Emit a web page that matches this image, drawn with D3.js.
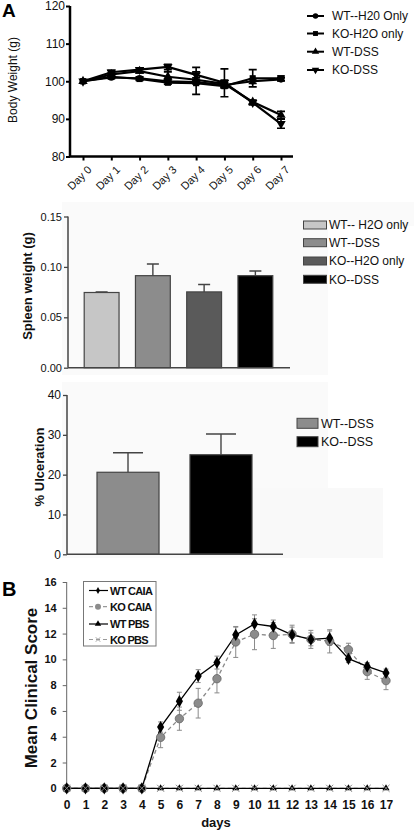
<!DOCTYPE html>
<html><head><meta charset="utf-8">
<script src="https://cdn.jsdelivr.net/npm/d3@7"></script>
<style>
body{margin:0;background:#fff;}
svg{display:block;font-family:"Liberation Sans",Arial,sans-serif;}
</style></head><body>
<svg id="c" width="414" height="830"></svg>
<script>
// ---------- DATA ----------
const bwDays = ["Day 0","Day 1","Day 2","Day 3","Day 4","Day 5","Day 6","Day 7"];
const bwSeries = ["WT--H20 Only","KO-H2O only","WT-DSS","KO-DSS"];
const bwWTH2O = [100, 101.0, 100.8, 100.0, 99.8, 99.0, 100.0, 100.5];
const bwKOH2O = [100, 101.2, 100.6, 99.6, 99.5, 98.7, 100.8, 100.8];
const bwWTDSS = [100, 101.8, 102.7, 101.2, 100.4, 99.3, 94.5, 91.0];
const bwKODSS = [100, 102.4, 103.1, 103.8, 101.7, 99.6, 94.3, 88.7];
const bwErrWTH2O = [0, 0.3, 0.4, 0.4, 0.5, 0.6, 0.6, 0.4];
const bwErrKOH2O = [0, 0.3, 0.4, 0.4, 3.0, 0.5, 2.3, 0.6];
const bwErrWTDSS = [0, 0.4, 0.5, 1.3, 0.5, 1.0, 0.5, 1.0];
const bwErrKODSS = [0, 0.5, 0.5, 0.7, 2.0, 3.7, 0.6, 1.2];
const bwTicks = [80, 90, 100, 110, 120];

const spleenGroups = ["WT-- H2O only","WT--DSS","KO--H2O only","KO--DSS"];
const spleenMeans = [0.0746, 0.0913, 0.0752, 0.0913];
const spleenErr = [0.0005, 0.0116, 0.0074, 0.0047];
const spleenTicks = [0, 0.05, 0.10, 0.15];

const ulcerGroups = ["WT--DSS","KO--DSS"];
const ulcerMeans = [20.6, 25.0];
const ulcerErr = [4.9, 5.2];
const ulcerTicks = [0, 10, 20, 30, 40];

const caiaDays = [0,1,2,3,4,5,6,7,8,9,10,11,12,13,14,15,16,17];
const caiaSeries = ["WT CAIA","KO CAIA","WT PBS","KO PBS"];
const wtCAIA = [0,0,0,0,0,4.75,6.75,8.7,9.75,11.9,12.75,12.55,11.9,11.55,11.65,10.05,9.45,8.95];
const wtCAIAErr = [0,0,0,0,0,0.4,0.7,0.5,0.5,0.6,0.7,0.5,0.6,0.5,0.55,0.3,0.3,0.3];
const koCAIA = [0,0,0,0,0,3.95,5.4,6.6,8.5,11.35,11.95,11.85,11.95,11.55,11.4,10.75,9.05,8.35];
const koCAIAErr = [0,0,0,0,0,0.8,0.9,1.15,1.1,1.2,1.2,1.0,0.7,0.7,0.9,0.5,0.6,0.7];
const wtPBS = [0,0,0,0,0,0,0,0,0,0,0,0,0,0,0,0,0,0];
const koPBS = [0,0,0,0,0,0,0,0,0,0,0,0,0,0,0,0,0,0];
const caiaTicks = [0,2,4,6,8,10,12,14,16];

// ---------- DRAW ----------
const svg = d3.select("#c");
const F = '"Liberation Sans",Arial,sans-serif';

// faint panel backgrounds
svg.append("rect").attr("x",62).attr("y",202).attr("width",352).attr("height",24).attr("fill","#fafafa");
svg.append("rect").attr("x",62).attr("y",226).attr("width",266).attr("height",149).attr("fill","#fafafa");
svg.append("rect").attr("x",62).attr("y",382).attr("width",266).attr("height",176).attr("fill","#fafafa");
svg.append("rect").attr("x",250).attr("y",488).attr("width",133).attr("height",70).attr("fill","#f9f9f9");

// ===== Panel A1: body weight =====
svg.append("text").attr("x",2).attr("y",17).attr("font-size",19).attr("font-weight","bold").text("A");
const bx = d3.scalePoint().domain(bwDays).range([83, 281]);
const by = d3.scaleLinear().domain([80,120]).range([156.5, 6]);
const gA = svg.append("g");
const yA = gA.append("g").attr("transform","translate(70,0)")
  .call(d3.axisLeft(by).tickValues(bwTicks).tickSize(4).tickPadding(1));
yA.select(".domain").attr("stroke","#000").attr("stroke-width",2.5).attr("d","M0,6V157");
yA.selectAll(".tick line").attr("stroke-width",2);
yA.selectAll("text").attr("font-size",12).attr("font-family",F).attr("fill","#111");
const xA = gA.append("g").attr("transform","translate(0,156.5)")
  .call(d3.axisBottom(bx).tickSize(4));
xA.select(".domain").attr("stroke","#000").attr("stroke-width",2.5).attr("d","M69,0H293");
xA.selectAll(".tick line").attr("stroke-width",2);
xA.selectAll("text").attr("font-size",11).attr("font-family",F).attr("fill","#111")
  .attr("text-anchor","end").attr("dy",0).attr("transform","translate(4,9) rotate(-45)");
svg.append("text").attr("transform","translate(17,80) rotate(-90)").attr("text-anchor","middle")
  .attr("font-size",12).attr("fill","#111").text("Body Weight (g)");

const bwData = [
  {name:bwSeries[0], v:bwWTH2O, e:bwErrWTH2O, sym:d3.symbolCircle, size:34},
  {name:bwSeries[1], v:bwKOH2O, e:bwErrKOH2O, sym:d3.symbolSquare, size:38},
  {name:bwSeries[2], v:bwWTDSS, e:bwErrWTDSS, sym:d3.symbolTriangle, size:38},
  {name:bwSeries[3], v:bwKODSS, e:bwErrKODSS, sym:"inv", size:38}
];
function symPath(s,size){
  if(s==="inv") return d3.symbol(d3.symbolTriangle,size)();
  return d3.symbol(s,size)();
}
bwData.forEach(s=>{
  const line = d3.line().x((d,i)=>bx(bwDays[i])).y(d=>by(d));
  gA.append("path").attr("d",line(s.v)).attr("fill","none").attr("stroke","#000").attr("stroke-width",2.2);
  s.v.forEach((d,i)=>{
    if(s.e[i]>0){
      const x=bx(bwDays[i]);
      gA.append("path").attr("d",`M${x},${by(d+s.e[i])}V${by(d-s.e[i])}M${x-4},${by(d+s.e[i])}H${x+4}M${x-4},${by(d-s.e[i])}H${x+4}`)
        .attr("stroke","#000").attr("stroke-width",1.6).attr("fill","none");
    }
  });
  s.v.forEach((d,i)=>{
    gA.append("path").attr("d",symPath(s.sym,s.size))
      .attr("transform",`translate(${bx(bwDays[i])},${by(d)})${s.sym==="inv"?" rotate(180)":""}`).attr("fill","#000");
  });
});
// legend A1
const legA = [16, 33.5, 51.7, 70];
bwData.forEach((s,i)=>{
  const y=legA[i];
  svg.append("line").attr("x1",307).attr("x2",324).attr("y1",y).attr("y2",y).attr("stroke","#000").attr("stroke-width",2);
  svg.append("path").attr("d",symPath(s.sym,24)).attr("transform",`translate(315.5,${y})${s.sym==="inv"?" rotate(180)":""}`);
  svg.append("text").attr("x",332).attr("y",y+4.3).attr("font-size",12).attr("fill","#111").text(s.name);
});

// ===== Panel A2: spleen =====
const sx = d3.scaleBand().domain(spleenGroups).range([76,281]).paddingInner(0.32).paddingOuter(0.16);
const sy = d3.scaleLinear().domain([0,0.15]).range([367.7,216.5]);
const spleenColors = ["#c6c6c6","#8c8c8c","#5a5a5a","#000000"];
const gS = svg.append("g");
spleenGroups.forEach((g,i)=>{
  const x = sx(g), w = sx.bandwidth(), cx = x + w/2;
  const top = sy(spleenMeans[i]+spleenErr[i]);
  gS.append("path").attr("d",`M${cx},${sy(spleenMeans[i])}V${top}M${cx-6},${top}H${cx+6}`)
    .attr("stroke","#444").attr("stroke-width",1.4);
  gS.append("rect").attr("x",x).attr("y",sy(spleenMeans[i])).attr("width",w)
    .attr("height",sy(0)-sy(spleenMeans[i])).attr("fill",spleenColors[i]).attr("stroke","#444").attr("stroke-width",1.2);
});
const yS = gS.append("g").attr("transform","translate(68,0)")
  .call(d3.axisLeft(sy).tickValues(spleenTicks).tickFormat(d3.format(".2f")).tickSize(4).tickPadding(2));
yS.select(".domain").attr("stroke","#444").attr("stroke-width",1.5).attr("d","M0,216.5V367.7");
yS.selectAll(".tick line").attr("stroke","#444").attr("stroke-width",1.3);
yS.selectAll("text").attr("font-size",11).attr("font-family",F).attr("fill","#111");
gS.append("line").attr("x1",68).attr("x2",290).attr("y1",367.7).attr("y2",367.7).attr("stroke","#444").attr("stroke-width",1.5);
svg.append("text").attr("transform","translate(32,286) rotate(-90)").attr("text-anchor","middle")
  .attr("font-size",13).attr("font-weight","bold").attr("fill","#111").text("Spleen weight (g)");
const legS = [225, 242.7, 261, 279.3];
spleenGroups.forEach((g,i)=>{
  svg.append("rect").attr("x",303.5).attr("y",legS[i]-4).attr("width",23).attr("height",8)
    .attr("fill",spleenColors[i]).attr("stroke","#444").attr("stroke-width",1);
  svg.append("text").attr("x",329).attr("y",legS[i]+4.3).attr("font-size",12).attr("fill","#111").text(g);
});

// ===== Panel A3: ulceration =====
const ux = d3.scaleBand().domain(ulcerGroups).range([69.1,279.9]).paddingInner(0.333).paddingOuter(0.3);
const uy = d3.scaleLinear().domain([0,40]).range([554.3,395]);
const ulcerColors = ["#8c8c8c","#000000"];
const gU = svg.append("g");
ulcerGroups.forEach((g,i)=>{
  const x = ux(g), w = ux.bandwidth(), cx = x + w/2;
  const top = uy(ulcerMeans[i]+ulcerErr[i]);
  gU.append("path").attr("d",`M${cx},${uy(ulcerMeans[i])}V${top}M${cx-15},${top}H${cx+15}`)
    .attr("stroke","#444").attr("stroke-width",1.4);
  gU.append("rect").attr("x",x).attr("y",uy(ulcerMeans[i])).attr("width",w)
    .attr("height",uy(0)-uy(ulcerMeans[i])).attr("fill",ulcerColors[i]).attr("stroke","#444").attr("stroke-width",1.2);
});
const yU = gU.append("g").attr("transform","translate(67,0)")
  .call(d3.axisLeft(uy).tickValues(ulcerTicks).tickSize(4).tickPadding(2));
yU.select(".domain").attr("stroke","#444").attr("stroke-width",1.5).attr("d","M0,395V554.3");
yU.selectAll(".tick line").attr("stroke","#444").attr("stroke-width",1.3);
yU.selectAll("text").attr("font-size",12).attr("font-family",F).attr("fill","#111");
gU.append("line").attr("x1",67).attr("x2",283).attr("y1",554.3).attr("y2",554.3).attr("stroke","#444").attr("stroke-width",1.5);
svg.append("text").attr("transform","translate(44,467) rotate(-90)").attr("text-anchor","middle")
  .attr("font-size",13).attr("font-weight","bold").attr("fill","#111").text("% Ulceration");
const legU = [423.3, 441.7];
ulcerGroups.forEach((g,i)=>{
  svg.append("rect").attr("x",297).attr("y",legU[i]-5).attr("width",21).attr("height",10)
    .attr("fill",ulcerColors[i]).attr("stroke","#444").attr("stroke-width",1);
  svg.append("text").attr("x",321).attr("y",legU[i]+4.5).attr("font-size",12.5).attr("fill","#111").text(g);
});

// ===== Panel B =====
svg.append("text").attr("x",2).attr("y",596).attr("font-size",20).attr("font-weight","bold").text("B");
const cx = d3.scaleLinear().domain([0,17]).range([66.7,386]);
const cy = d3.scaleLinear().domain([0,16]).range([788.3,582]);
const gB = svg.append("g");
const yB = gB.append("g").attr("transform","translate(66.7,0)")
  .call(d3.axisLeft(cy).tickValues(caiaTicks).tickSize(4).tickPadding(6));
yB.select(".domain").attr("stroke","#666").attr("stroke-width",1).attr("d","M0,582V788.3");
yB.selectAll(".tick line").attr("stroke","#666");
yB.selectAll("text").attr("font-size",11).attr("font-weight","bold").attr("font-family",F).attr("fill","#111");
const xB = gB.append("g").attr("transform","translate(0,788.3)")
  .call(d3.axisBottom(cx).tickValues(caiaDays).tickSize(0).tickPadding(12));
xB.select(".domain").remove();
xB.selectAll("text").attr("font-size",12).attr("font-weight","bold").attr("font-family",F).attr("fill","#111");
svg.append("text").attr("x",216).attr("y",827).attr("text-anchor","middle").attr("font-size",13)
  .attr("font-weight","bold").attr("fill","#111").text("days");
svg.append("text").attr("transform","translate(37,688) rotate(-90)").attr("text-anchor","middle")
  .attr("font-size",17).attr("font-weight","bold").attr("fill","#111").text("Mean Clinical Score");

const lineB = d3.line().x((d,i)=>cx(caiaDays[i])).y(d=>cy(d));
// PBS
gB.append("path").attr("d",lineB(koPBS)).attr("fill","none").attr("stroke","#999").attr("stroke-width",1.2).attr("stroke-dasharray","4,3");
gB.append("path").attr("d",lineB(wtPBS)).attr("fill","none").attr("stroke","#000").attr("stroke-width",1.2);
// error bars
function errB(vals, errs, color, capW){
  vals.forEach((d,i)=>{
    if(errs[i]>0){
      const x=cx(caiaDays[i]), t=cy(d+errs[i]), b=cy(d-errs[i]);
      gB.append("path").attr("d",`M${x},${t}V${b}M${x-capW},${t}H${x+capW}M${x-capW},${b}H${x+capW}`)
        .attr("stroke",color).attr("stroke-width",1).attr("fill","none");
    }
  });
}
errB(koCAIA, koCAIAErr, "#8a8a8a", 2.5);
errB(wtCAIA, wtCAIAErr, "#8a8a8a", 2.5);
gB.append("path").attr("d",lineB(koCAIA)).attr("fill","none").attr("stroke","#8a8a8a").attr("stroke-width",1.3).attr("stroke-dasharray","4,3");
gB.append("path").attr("d",lineB(wtCAIA)).attr("fill","none").attr("stroke","#000").attr("stroke-width",1.3);
// markers
koCAIA.forEach((d,i)=>{
  gB.append("circle").attr("cx",cx(caiaDays[i])).attr("cy",cy(d)).attr("r",4.2).attr("fill","#8c8c8c").attr("stroke","#666").attr("stroke-width",0.8);
});
wtCAIA.forEach((d,i)=>{
  gB.append("path").attr("d",d3.symbol(d3.symbolDiamond,44)()).attr("transform",`translate(${cx(caiaDays[i])},${cy(d)})`).attr("fill","#000");
});
wtPBS.forEach((d,i)=>{
  gB.append("path").attr("d",d3.symbol(d3.symbolTriangle,22)()).attr("transform",`translate(${cx(caiaDays[i])},${cy(d)})`).attr("fill","#000");
});
koPBS.forEach((d,i)=>{
  gB.append("path").attr("d",d3.symbol(d3.symbolX,34)()).attr("transform",`translate(${cx(caiaDays[i])},${cy(d)})`).attr("fill","none").attr("stroke","#888").attr("stroke-width",1);
});
// legend B
svg.append("rect").attr("x",83.5).attr("y",581.5).attr("width",72.5).attr("height",64.5).attr("fill","#fff").attr("stroke","#777").attr("stroke-width",1);
const legB = [590.5, 606.7, 624, 639.5];
caiaSeries.forEach((s,i)=>{
  const y=legB[i];
  const dashed = (i%2===1);
  svg.append("line").attr("x1",89).attr("x2",108).attr("y1",y).attr("y2",y)
    .attr("stroke",dashed?"#999":"#000").attr("stroke-width",1.2).attr("stroke-dasharray",dashed?"4,3":null);
  if(i===0) svg.append("path").attr("d",d3.symbol(d3.symbolDiamond,14)()).attr("transform",`translate(98,${y})`);
  if(i===1) svg.append("circle").attr("cx",98).attr("cy",y).attr("r",3).attr("fill","#8c8c8c");
  if(i===2) svg.append("path").attr("d",d3.symbol(d3.symbolTriangle,18)()).attr("transform",`translate(98,${y})`);
  if(i===3) svg.append("path").attr("d",d3.symbol(d3.symbolX,14)()).attr("transform",`translate(98,${y})`).attr("fill","none").attr("stroke","#999");
  svg.append("text").attr("x",110).attr("y",y+4).attr("font-size",11).attr("font-weight","bold")
    .attr("letter-spacing","-0.7").attr("fill","#111").text(s);
});
</script>
</body></html>
